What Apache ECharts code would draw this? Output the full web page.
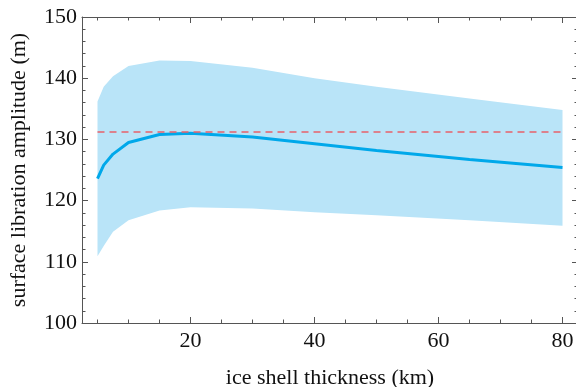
<!DOCTYPE html>
<html>
<head>
<meta charset="utf-8">
<script src="https://cdn.jsdelivr.net/npm/echarts@6/dist/echarts.min.js"></script>
<style>
html,body{margin:0;padding:0;background:#fff;}
#chart{width:576px;height:387px;}
</style>
</head>
<body>
<div id="chart"></div>
<script>
var thickness = [5, 6, 7.5, 10, 15, 20, 30, 40, 50, 65, 80];
var amplitude = [123.6, 125.8, 127.6, 129.5, 130.8, 131.0, 130.4, 129.3, 128.2, 126.7, 125.4];
var upperBound = [136.2, 138.6, 140.3, 142.0, 142.9, 142.8, 141.7, 140.0, 138.6, 136.7, 134.8];
var lowerBound = [110.9, 112.6, 114.9, 116.8, 118.4, 118.9, 118.7, 118.1, 117.6, 116.8, 115.9];
var referenceLevel = 131.2;
var xMajorTicks = [20, 40, 60, 80];
var xMinorTicks = [5, 10, 15, 25, 30, 35, 45, 50, 55, 65, 70, 75];
var xTitle = 'ice shell thickness (km)';
var yTitle = 'surface libration amplitude (m)';

var FONT = 'Liberation Serif';
var FRAME = '#555';

function pairs(xs, ys) { return xs.map(function (x, i) { return [x, ys[i]]; }); }

function xAx(pos, major, withLabel) {
  return {
    type: 'value', position: pos, min: 2.5, max: 82.5,
    axisLine: { show: major, onZero: false, lineStyle: { color: FRAME, width: 1 } },
    axisTick: { show: true, inside: true, length: major ? 6 : 3.5,
      customValues: major ? xMajorTicks : xMinorTicks, lineStyle: { color: FRAME } },
    axisLabel: withLabel ? { show: true, customValues: xMajorTicks, fontFamily: FONT, fontSize: 22, color: '#111', margin: 7 } : { show: false },
    splitLine: { show: false },
    name: withLabel ? xTitle : '',
    nameLocation: 'middle', nameGap: 44,
    nameTextStyle: { fontFamily: FONT, fontSize: 22, color: '#111' }
  };
}
function yAx(pos, withLabel) {
  return {
    type: 'value', position: pos, min: 100, max: 150, interval: 10,
    axisLine: { show: true, onZero: false, lineStyle: { color: FRAME, width: 1 } },
    axisTick: { show: true, inside: true, length: 6, lineStyle: { color: FRAME } },
    minorTick: { show: true, splitNumber: 5, length: 3.5, lineStyle: { color: FRAME } },
    axisLabel: withLabel ? { show: true, fontFamily: FONT, fontSize: 22, color: '#111', margin: 5 } : { show: false },
    splitLine: { show: false }, minorSplitLine: { show: false },
    name: withLabel ? yTitle : '',
    nameLocation: 'middle', nameGap: 52, nameRotate: 90,
    nameTextStyle: { fontFamily: FONT, fontSize: 22, color: '#111' }
  };
}

var bandData = thickness.map(function (x, i) { return [x, lowerBound[i], upperBound[i]]; });

var chart = echarts.init(document.getElementById('chart'), null, { renderer: 'canvas' });
chart.setOption({
  animation: false,
  backgroundColor: '#fff',
  grid: { left: 82, top: 17, width: 496, height: 306, outerBoundsMode: 'none', containLabel: false },
  xAxis: [xAx('bottom', true, true), xAx('bottom', false, false), xAx('top', true, false), xAx('top', false, false)],
  yAxis: [yAx('left', true), yAx('right', false)],
  series: [
    { type: 'custom', xAxisIndex: 0, yAxisIndex: 0, data: bandData,
      encode: { x: 0, y: [1, 2] }, silent: true, z: 1,
      renderItem: function (params, api) {
        if (params.dataIndex !== 0) return null;
        var top = [], bot = [];
        for (var i = 0; i < bandData.length; i++) {
          top.push(api.coord([bandData[i][0], bandData[i][2]]));
          bot.push(api.coord([bandData[i][0], bandData[i][1]]));
        }
        var pts = top.concat(bot.reverse());
        return { type: 'polygon', shape: { points: pts }, style: { fill: '#b9e4f8', stroke: null } };
      }
    },
    { type: 'line', xAxisIndex: 0, yAxisIndex: 0, data: pairs(thickness, amplitude),
      symbol: 'none', lineStyle: { color: '#00a8ea', width: 3 }, z: 3 },
    { type: 'line', xAxisIndex: 0, yAxisIndex: 0,
      data: [[thickness[0], referenceLevel], [thickness[thickness.length - 1], referenceLevel]],
      symbol: 'none', lineStyle: { color: '#e8606a', width: 1.5, type: [7, 5] }, z: 4 }
  ]
});
</script>
</body>
</html>
